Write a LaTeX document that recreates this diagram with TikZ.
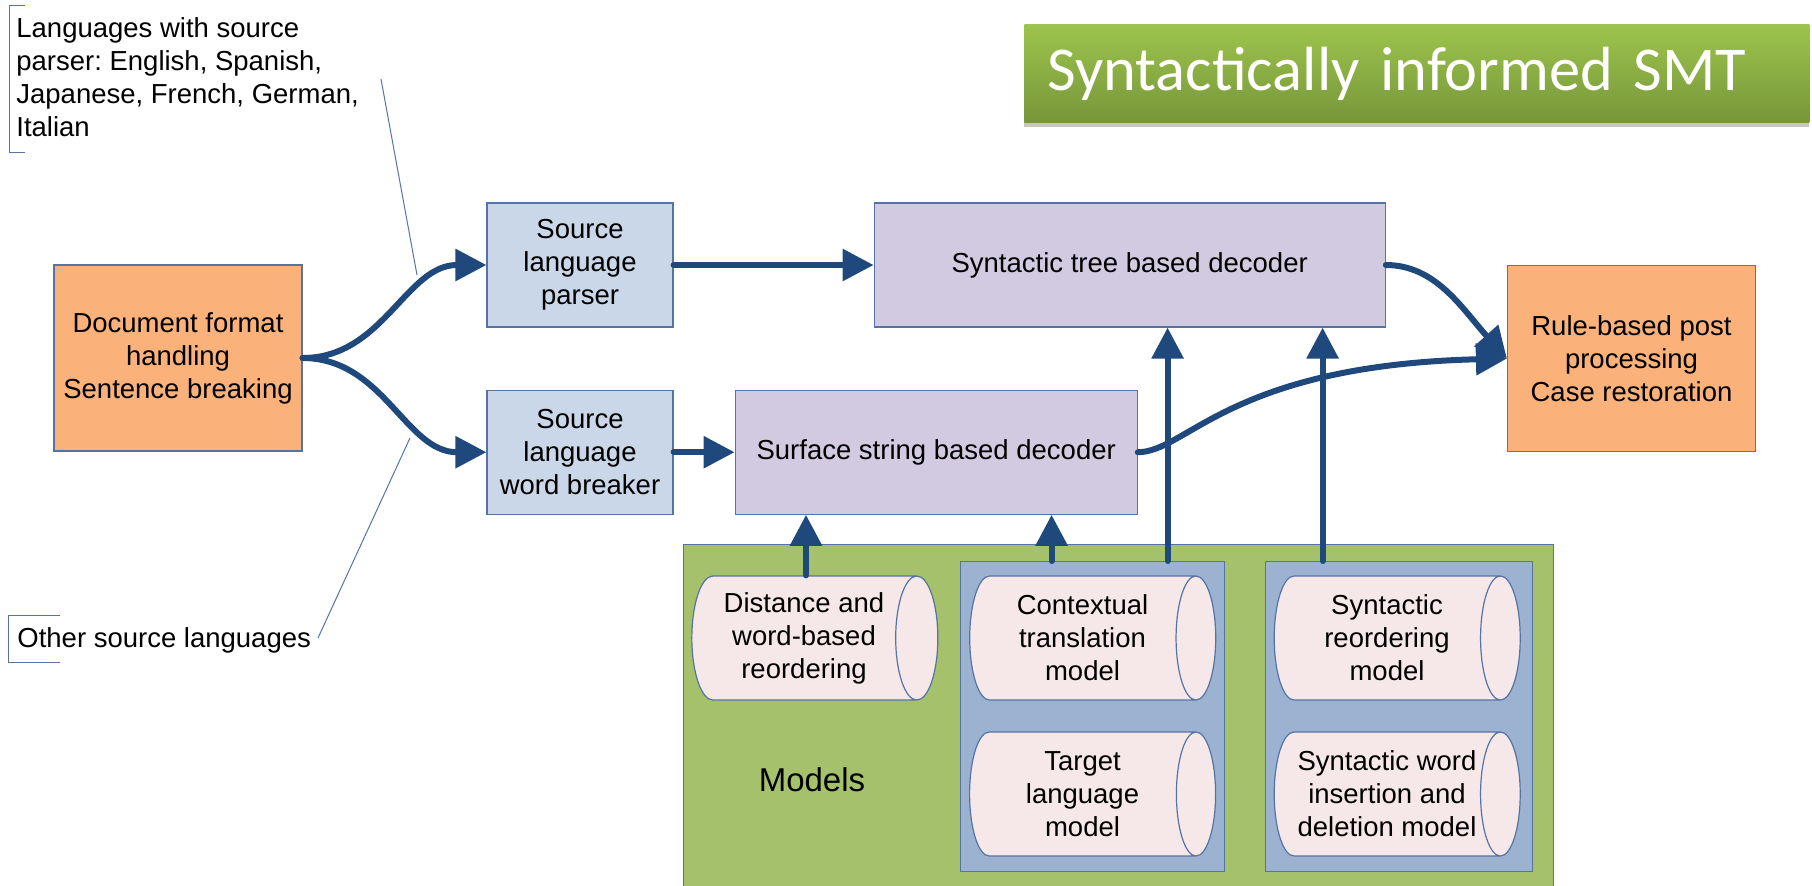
\documentclass[tikz,border=0pt]{standalone}
\usepackage{fontspec}
\setmainfont{Liberation Sans}
\newfontfamily\titlefont{Carlito}
\usetikzlibrary{positioning}
\usetikzlibrary{shapes.geometric,arrows.meta,shadows}
\frenchspacing

\definecolor{edge}{RGB}{85,115,165}
\definecolor{orangefill}{RGB}{250,178,122}
\definecolor{srcfill}{RGB}{201,215,232}
\definecolor{decfill}{RGB}{210,202,224}
\definecolor{modelfill}{RGB}{166,193,108}
\definecolor{groupfill}{RGB}{155,179,208}
\definecolor{cylfill}{RGB}{246,232,232}
\definecolor{arblue}{RGB}{31,73,125}
\definecolor{titletop}{RGB}{157,196,76}
\definecolor{titlebot}{RGB}{119,150,58}

\begin{document}
\begin{tikzpicture}[x=0.5pt, y=-0.5pt,
  box/.style={rectangle, draw=edge, line width=0.6pt, align=center, inner sep=0pt, font=\fontsize{13.75}{16.5}\selectfont},
  outer/.style={box, fill=orangefill, minimum width=124pt, minimum height=93pt},
  src/.style={box, fill=srcfill, minimum width=93pt, minimum height=62pt},
  dec/.style={box, fill=decfill, minimum height=62pt},
  group/.style={box, fill=groupfill, minimum height=155pt, anchor=north west},
  cyl/.style={cylinder, shape border rotate=0, aspect=0.46, draw=edge, line width=0.6pt, cylinder uses custom fill, cylinder body fill=cylfill, cylinder end fill=cylfill, minimum width=62pt, minimum height=123pt, inner sep=0pt, align=center, font=\fontsize{13.75}{16.5}\selectfont},
  ar/.style={line width=3pt, arblue, line cap=round, -{Triangle[length=15.5pt,width=15.5pt]}},
  lead/.style={line width=0.5pt, edge},
  note/.style={align=left, inner sep=0pt, font=\fontsize{13.75}{16.5}\selectfont}]
  \useasboundingbox (0,0) rectangle (1812,885);

  % title bar
  \node[anchor=north west, top color=titletop, bottom color=titlebot, draw=none,
    drop shadow={shadow xshift=0pt, shadow yshift=-2.5pt, opacity=0.45},
    minimum height=49pt, text width=369.5pt, inner xsep=11.5pt, align=left,
    text=white, font=\titlefont\fontsize{31.2}{36}\selectfont] (title) at (1024,24) {Syntactically informed SMT};

  % main chain
  \node[outer] (doc) at (178,358) {Document format\\handling\\Sentence breaking};
  \node[src] (parser) at (580,265) {Source\\language\\parser};
  \node[src] (breaker) [below=31pt of parser] {Source\\language\\word breaker};
  \node[dec, minimum width=255.5pt] (tree) [right=100pt of parser] {Syntactic tree based decoder};
  \node[dec, minimum width=201pt] (surface) [right=30.5pt of breaker] {Surface string based decoder};
  \node[outer] (post) at (1631.5,358.5) {Rule-based post\\processing\\Case restoration};

  % models
  \node[draw=edge, line width=0.6pt, fill=modelfill, anchor=north west, inner sep=0pt,
    minimum width=435pt, minimum height=172pt] (models) at (683,544) {};
  \node[font=\fontsize{16.5}{20}\selectfont] (mlabel) at (812,780) {Models};
  \node[group, minimum width=132pt] (grp1) at (960,561) {};
  \node[group, minimum width=133.5pt] (grp2) at (1265,561) {};
  \node[cyl] (dist) at (804,638) {Distance and\\word-based\\reordering};
  \node[cyl] (ctx) at (1082.5,638) {Contextual\\translation\\model};
  \node[cyl] (lm) at (1082.5,794) {Target\\language\\model};
  \node[cyl] (sreo) at (1387,638) {Syntactic\\reordering\\model};
  \node[cyl] (sins) at (1387,794) {Syntactic word\\insertion and\\deletion model};

  % notes
  \node[note, anchor=north west] (withparser) at (16,17) {Languages with source\\parser: English, Spanish,\\Japanese, French, German,\\Italian};
  \node[note, anchor=base west] (others) at (17,647) {Other source languages};
  \draw[lead] (25,5) -| (9,152) -- (25,152);
  \draw[lead] (60,615) -| (8,662) -- (60,662);
  \coordinate (wp1) at (381,79);
  \coordinate (wp2) at (417,275);
  \coordinate (os1) at (318,638);
  \coordinate (os2) at (410,438);
  \draw[lead] (wp1) -- (wp2);
  \draw[lead] (os1) -- (os2);

  % arrows
  \draw[ar] (doc.east) to[out=0,in=180] (parser.west);
  \draw[ar] (doc.east) to[out=0,in=180] (breaker.west);
  \draw[ar] (parser.east) -- (tree.west);
  \draw[ar] (breaker.east) -- (surface.west);
  \draw[ar] (tree.east) .. controls +(50,0) and +(-45,-50) .. (post.west);
  \draw[ar] (surface.east) .. controls +(49,0) and +(-278,7) .. (post.west);

  \coordinate (d0) at ([xshift=1pt]dist.north);
  \coordinate (c0) at ([xshift=-20.5pt]grp1.north);
  \coordinate (t1) at ([xshift=37.5pt]grp1.north);
  \coordinate (t2) at ([xshift=-38.25pt]grp2.north);
  \draw[ar] (d0) -- (d0 |- surface.south);
  \draw[ar] (c0) -- (c0 |- surface.south);
  \draw[ar] (t1) -- (t1 |- tree.south);
  \draw[ar] (t2) -- (t2 |- tree.south);
\end{tikzpicture}
\end{document}
